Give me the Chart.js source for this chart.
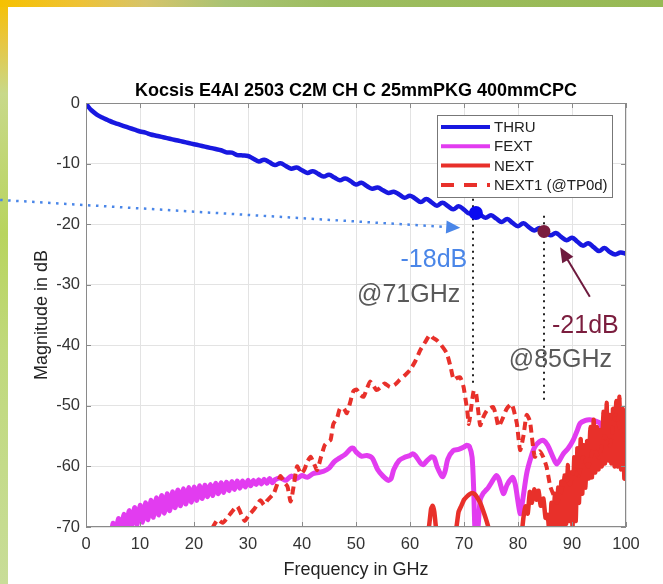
<!DOCTYPE html>
<html>
<head>
<meta charset="utf-8">
<script src="https://cdn.jsdelivr.net/npm/chart.js@4.4.1/dist/chart.umd.min.js"></script>
<style>
    html, body { margin: 0; padding: 0; background: #fff; }
    canvas { display: block; }
</style>
</head>
<body>
<canvas id="chart" width="663" height="584"></canvas>
<script>
const chartTitle = 'Kocsis E4AI 2503 C2M CH C 25mmPKG 400mmCPC'
const xTicks = [0, 10, 20, 30, 40, 50, 60, 70, 80, 90, 100]
const yTicks = [0, -10, -20, -30, -40, -50, -60, -70]
const seriesNames = ['THRU', 'FEXT', 'NEXT', 'NEXT1 (@TP0d)']

// THRU insertion loss
const thruFreq = [0, 0.5, 1, 2, 3, 4, 5, 6, 7, 8, 9, 10, 11, 12, 13, 14, 15, 16, 17, 18, 19, 20,
    21, 22, 23, 24, 25, 26, 27, 28, 29, 30, 31, 32, 33, 34, 35, 36, 37, 38, 39, 40,
    41, 42, 43, 44, 45, 46, 47, 48, 49, 50, 51, 52, 53, 54, 55, 56, 57, 58, 59, 60,
    61, 62, 63, 64, 65, 66, 67, 68, 69, 70, 71, 72, 73, 74, 75, 76, 77, 78, 79, 80,
    81, 82, 83, 84, 85, 86, 87, 88, 89, 90, 91, 92, 93, 94, 95, 96, 97, 98, 99, 100]
const thru = [0, -0.7, -1.2, -1.9, -2.4, -2.8, -3.2, -3.5, -3.8, -4.1, -4.4, -4.7, -4.9, -5.2, -5.4, -5.6, -5.8, -6.0, -6.2, -6.4, -6.6, -6.8,
    -7.0, -7.2, -7.4, -7.6, -7.8, -8.15, -8.2, -8.6, -8.65, -8.75, -9.2, -9.65, -9.35, -9.8, -10.25, -9.95, -10.4, -10.85, -10.65, -11.1,
    -11.55, -11.25, -11.7, -12.15, -11.85, -12.3, -12.75, -12.45, -12.9, -13.45, -13.15, -13.7, -14.15, -13.95, -14.4, -14.85, -14.65, -15.1, -15.65, -15.3,
    -15.8, -16.35, -15.85, -16.4, -16.95, -16.45, -17.0, -17.55, -17.05, -17.6, -18.25, -17.75, -18.4, -18.95, -18.55, -19.1, -19.65, -19.15, -19.8, -20.35,
    -19.85, -20.5, -21.05, -20.65, -21.2, -21.85, -21.45, -22.1, -22.65, -22.25, -22.9, -23.55, -23.15, -23.8, -24.45, -23.95, -24.6, -25.0, -24.7, -24.9]

// FEXT
const fextFreq = [4.6, 5, 5.5, 6, 6.5, 7, 7.5, 8, 8.5, 9, 9.5, 10, 10.5, 11, 11.5, 12, 12.5, 13, 13.5, 14, 14.5,
    15, 15.5, 16, 16.5, 17, 17.5, 18, 18.5, 19, 19.5, 20, 20.5, 21, 21.5, 22, 22.5, 23, 23.5, 24, 24.5,
    25, 25.5, 26, 26.5, 27, 27.5, 28, 28.5, 29, 29.5, 30, 30.5, 31, 31.5, 32, 32.5, 33, 33.5, 34, 34.5,
    35, 36, 37, 38, 39, 40, 41, 42, 43, 44, 45, 46, 47, 48, 49, 49.5, 50, 51, 52, 53, 54, 55, 56, 56.5,
    57, 58, 59, 60, 60.5, 61, 62, 62.5, 63, 64, 64.5, 65, 66, 66.5, 67, 68, 69, 70, 70.5, 71, 71.5, 71.8,
    72, 72.2, 72.6, 73, 73.5, 74, 74.5, 75, 76, 76.5, 77.3, 78, 79, 79.5, 80.4, 80.8, 81.6, 82.4, 83.1, 84,
    84.7, 85.5, 86.5, 87.2, 88.4, 89.3, 90.2, 91, 91.5, 92.5, 93.3, 94.3, 95.2, 96, 96.4, 97, 97.6, 98.3, 98.9, 99.5, 100]
const fext = [-72, -69.4, -71, -68.6, -70.4, -67.9, -70.1, -67.3, -69.9, -66.8, -69.6, -66.4, -69.2, -66.0, -68.8, -65.6, -68.4, -65.2, -68.0, -64.8, -67.7,
    -64.5, -67.3, -64.2, -66.8, -63.9, -66.5, -63.7, -66.2, -63.5, -65.9, -63.4, -65.6, -63.2, -65.3, -63.1, -65.0, -63.0, -64.8, -62.8, -64.5,
    -62.7, -64.3, -62.6, -64.0, -62.5, -63.8, -62.4, -63.6, -62.4, -63.4, -62.3, -63.2, -62.3, -63.0, -62.2, -62.9, -62.1, -62.8, -62.0, -62.7,
    -62.2, -61.9, -62.3, -61.6, -62.0, -61.5, -61.8, -61.2, -61.0, -60.8, -60.3, -59.2, -58.6, -58.0, -57.1, -57.0, -57.6, -58.3, -58.2, -58.6, -60.5, -61.6, -62.3, -62.0,
    -60.5, -59.0, -58.5, -58.2, -57.9, -58.2, -59.5, -59.7, -59.2, -58.4, -58.6, -60.0, -61.7, -60.8, -58.8, -57.4, -57.2, -56.8, -56.5, -56.7, -58.5, -64,
    -70, -72, -70, -65.5, -64.5, -64.0, -63.5, -62.8, -61.5, -62.2, -64.5, -63.0, -61.8, -63.0, -67.8, -66.0, -61.2, -58.5, -56.8, -55.9,
    -55.7, -56.5, -58.5, -59.6, -57.9, -57.0, -55.7, -54.0, -52.9, -52.4, -52.3, -52.5, -52.9, -55.0, -56.2, -56.8, -56.8, -56.0, -55.1, -54.2, -54.0]

// NEXT (solid)
const nextFreq = [62.8, 63.5, 63.9, 64.2, 64.5, 64.8, 65.2, 66, 68, 68.6, 69, 69.5, 70, 70.5, 71, 71.5, 72, 72.5, 73, 73.5, 74, 74.5, 75, 78,
    80.6, 81.0, 81.4, 81.8, 82.2, 82.6, 83.0, 83.4, 83.8, 84.2, 84.7, 85.1, 85.5, 85.9, 86.2, 86.5, 86.8, 87.1, 87.4, 87.7, 88.0, 88.3,
    88.6, 88.9, 89.2, 89.5, 89.8, 90.1, 90.4, 90.7, 91.0, 91.3, 91.6, 91.9, 92.2, 92.5, 92.8, 93.1, 93.4, 93.7, 94.0, 94.3, 94.6, 94.9,
    95.2, 95.5, 95.8, 96.1, 96.4, 96.7, 97.0, 97.3, 97.6, 97.9, 98.2, 98.5, 98.8, 99.1, 99.4, 99.7, 100]
const next = [-72, -70, -67, -66.5, -67.5, -70, -72, null, -72, -70, -67.5, -66.5, -65.5, -65, -64.6, -64.4, -64.6, -65.2, -66, -67.2, -68.5, -70, -72, null,
    -72, -68.5, -66.6, -67.8, -64.2, -66, -63.8, -65.5, -64, -66.5, -65.3, -68.5, -68, -72, -66, -72, -64.5, -71.5, -63.5, -71, -62.5, -70,
    -61.5, -69.5, -59.8, -69, -61, -70, -58.5, -69, -57, -66, -55.5, -64.5, -56.5, -63.5, -55.8, -62, -53.5, -61.8, -52.3, -61, -53.5, -60.5,
    -54, -60, -51, -59.5, -49.5, -59, -51.5, -59.5, -50.5, -60, -49.2, -60, -48.5, -60.5, -50.5, -62, -56]

// NEXT1 (dashed)
const next1Freq = [22, 23.5, 24.4, 25.3, 26.3, 27, 28, 28.8, 29.4, 30.2, 31.2, 32.3, 33, 33.6, 34.8, 36, 36.6, 37.3, 37.9, 38.5,
    39.1, 39.8, 40.4, 41, 41.6, 42.2, 42.8, 43.5, 44.2, 44.7, 45.3, 45.8, 46.5, 47, 47.7, 48.3, 48.9, 49.5, 50.1, 50.8,
    51.4, 52, 52.6, 53.2, 53.8, 54.5, 55.3, 56.3, 57.2, 58.1, 59, 60, 61, 61.9, 62.8, 63.7, 64.3, 65, 65.8, 66.8,
    67.5, 68.1, 68.7, 69.3, 69.9, 70.3, 70.6, 70.9, 71.3, 71.8, 72.2, 72.5, 73, 73.5, 74.2, 74.8, 75.4, 75.9, 76.4, 77.2,
    77.9, 78.8, 79.3, 79.8, 80.4, 81, 81.6, 82.2, 83.1, 84, 84.7, 85.3, 86, 86.5, 87.2, 88, 88.8, 89.6, 90.4, 91.2,
    92, 93, 94, 95, 96, 97, 98, 99, 100]
const next1 = [-72, -70, -68.8, -69.3, -68.3, -67.5, -66.6, -68, -69, -68, -67, -65.6, -66.4, -65.6, -64.4, -61.6, -62.5, -63.3, -65.8, -63,
    -60, -61.2, -60.6, -59.2, -58.4, -59.5, -60.6, -58.5, -56.5, -56.0, -55.6, -53, -52.0, -50.5, -50.4, -51.2, -49.5, -47.6, -47.3, -48.2,
    -48.5, -47.2, -46.0, -46.6, -47.4, -47.0, -46.3, -46.9, -46.5, -45.7, -45.0, -44.1, -42.6, -40.8, -39.5, -38.3, -38.8, -39.2, -40.0, -41.3,
    -43.5, -45.7, -45.4, -45.3, -46.8, -49, -50.8, -53, -50.5, -47.5, -47.8, -49.8, -53.2, -52.0, -50.8, -50.4, -50.2, -51.5, -53.4, -52.0,
    -50.5, -49.7, -51.0, -53.0, -57.3, -55, -51.5, -52.5, -58.4, -57.5, -58.5, -60.1, -63.4, -64.5, -66, -64, -61.5, -63, -60.5, -61.5,
    -58.5, -60, -57, -58.5, -55, -56.5, -51.5, -54, -56]

// callouts
const blueMark = { f: 72.2, db: -18.15 }
const redMark = { f: 84.8, db: -21.2 }

const colors = ['#1818e0', '#e23cf0', '#e8302a', '#e8302a']

function pts(xs, ys) {
    return xs.map((x, i) => ({ x: x, y: ys[i] }))
}

const slideAndNotes = {
    id: 'slideAndNotes',
    beforeDraw(chart) {
        const ctx = chart.ctx
        ctx.save()
        ctx.fillStyle = '#fff'
        ctx.fillRect(0, 0, chart.width, chart.height)
        let g = ctx.createLinearGradient(0, 0, 0, chart.height)
        g.addColorStop(0, '#f6c100')
        g.addColorStop(0.07, '#e8c640')
        g.addColorStop(0.16, '#c8d98a')
        g.addColorStop(0.4, '#b8d45e')
        g.addColorStop(0.6, '#c0d97c')
        g.addColorStop(1, '#c8dd98')
        ctx.fillStyle = g
        ctx.fillRect(0, 0, 8, chart.height)
        g = ctx.createLinearGradient(0, 0, chart.width, 0)
        g.addColorStop(0, '#f6c100')
        g.addColorStop(0.12, '#eec236')
        g.addColorStop(0.22, '#d6c46a')
        g.addColorStop(0.34, '#a9c373')
        g.addColorStop(0.5, '#9dbd60')
        g.addColorStop(1, '#97b954')
        ctx.fillStyle = g
        ctx.fillRect(0, 0, chart.width, 7)
        ctx.restore()
    },
    afterDatasetsDraw(chart) {
        const ctx = chart.ctx
        const a = chart.chartArea
        const xs = chart.scales.x, ys = chart.scales.y
        const px = v => xs.getPixelForValue(v)
        const py = v => ys.getPixelForValue(v)
        ctx.save()

        // axes box and inward ticks
        ctx.strokeStyle = '#8a8a8a'
        ctx.lineWidth = 1
        ctx.strokeRect(a.left + 0.5, a.top + 0.5, a.right - a.left - 1, a.bottom - a.top - 1)
        ctx.beginPath()
        xTicks.forEach(v => {
            const x = Math.round(px(v)) + 0.5
            ctx.moveTo(x, a.bottom); ctx.lineTo(x, a.bottom - 5)
            ctx.moveTo(x, a.top); ctx.lineTo(x, a.top + 5)
        })
        yTicks.forEach(v => {
            const y = Math.round(py(v)) + 0.5
            ctx.moveTo(a.left, y); ctx.lineTo(a.left + 5, y)
            ctx.moveTo(a.right, y); ctx.lineTo(a.right - 5, y)
        })
        ctx.stroke()

        // title
        ctx.fillStyle = '#000'
        ctx.font = 'bold 18px "Liberation Sans", Arial, sans-serif'
        ctx.textAlign = 'center'
        ctx.textBaseline = 'alphabetic'
        ctx.fillText(chartTitle, (a.left + a.right) / 2, a.top - 7)

        // legend
        const lw = 175, lh = 82
        const lx = a.right - 14 - lw, ly = a.top + 12
        ctx.fillStyle = '#fff'
        ctx.fillRect(lx, ly, lw, lh)
        ctx.strokeStyle = '#777'
        ctx.strokeRect(lx + 0.5, ly + 0.5, lw, lh)
        ctx.font = '15px "Liberation Sans", Arial, sans-serif'
        ctx.textAlign = 'left'
        ctx.textBaseline = 'middle'
        seriesNames.forEach((name, i) => {
            const y = ly + 12 + i * 19.3
            ctx.strokeStyle = colors[i]
            ctx.lineWidth = 4
            ctx.setLineDash(i === 3 ? [13, 10] : [])
            ctx.beginPath()
            ctx.moveTo(lx + 4, y); ctx.lineTo(lx + 53, y)
            ctx.stroke()
            ctx.setLineDash([])
            ctx.fillStyle = '#222'
            ctx.fillText(name, lx + 57, y + 1)
        })

        // blue dotted pointer with arrow head
        const x0 = px(-15.9), y0 = py(-16.0)
        const tx = px(69.3), ty = py(-20.6)
        const len = Math.hypot(tx - x0, ty - y0)
        const ux = (tx - x0) / len, uy = (ty - y0) / len
        ctx.strokeStyle = '#4a86e8'
        ctx.lineWidth = 2.5
        ctx.setLineDash([2.5, 5.5])
        ctx.beginPath()
        ctx.moveTo(x0, y0); ctx.lineTo(tx - ux * 13, ty - uy * 13)
        ctx.stroke()
        ctx.setLineDash([])
        ctx.fillStyle = '#4a86e8'
        ctx.beginPath()
        ctx.moveTo(tx, ty)
        ctx.lineTo(tx - ux * 14 - uy * 6.5, ty - uy * 14 + ux * 6.5)
        ctx.lineTo(tx - ux * 14 + uy * 6.5, ty - uy * 14 - ux * 6.5)
        ctx.closePath()
        ctx.fill()

        // black dotted drop lines
        ctx.strokeStyle = '#222'
        ctx.lineWidth = 2
        ctx.setLineDash([2, 4.5])
        ctx.beginPath()
        ctx.moveTo(Math.round(px(71.7)), py(-15.8)); ctx.lineTo(Math.round(px(71.7)), py(-46.3))
        ctx.moveTo(Math.round(px(84.8)), py(-18.6)); ctx.lineTo(Math.round(px(84.8)), py(-49.0))
        ctx.stroke()
        ctx.setLineDash([])

        // marker dots
        ctx.fillStyle = '#0a0af0'
        ctx.beginPath()
        ctx.arc(px(blueMark.f), py(blueMark.db), 7, 0, Math.PI * 2)
        ctx.fill()
        ctx.fillStyle = '#7b1d3e'
        ctx.beginPath()
        ctx.arc(px(redMark.f), py(redMark.db), 6.5, 0, Math.PI * 2)
        ctx.fill()

        // maroon arrow
        const ax0 = px(93.3), ay0 = py(-32.0)
        const ax1 = px(87.8), ay1 = py(-23.8)
        const al = Math.hypot(ax1 - ax0, ay1 - ay0)
        const vx = (ax1 - ax0) / al, vy = (ay1 - ay0) / al
        ctx.strokeStyle = '#6e1a3e'
        ctx.fillStyle = '#6e1a3e'
        ctx.lineWidth = 2
        ctx.beginPath()
        ctx.moveTo(ax0, ay0); ctx.lineTo(ax1 - vx * 12, ay1 - vy * 12)
        ctx.stroke()
        ctx.beginPath()
        ctx.moveTo(ax1, ay1)
        ctx.lineTo(ax1 - vx * 15 - vy * 6.5, ay1 - vy * 15 + vx * 6.5)
        ctx.lineTo(ax1 - vx * 15 + vy * 6.5, ay1 - vy * 15 - vx * 6.5)
        ctx.closePath()
        ctx.fill()

        // callout text
        ctx.font = '25px "Liberation Sans", Arial, sans-serif'
        ctx.textBaseline = 'alphabetic'
        ctx.textAlign = 'right'
        ctx.fillStyle = '#4a86e8'
        ctx.fillText('-18dB', px(70.6), py(-27.1))
        ctx.fillStyle = '#595959'
        ctx.fillText('@71GHz', px(69.3), py(-32.9))
        ctx.textAlign = 'left'
        ctx.fillStyle = '#7b1d3e'
        ctx.fillText('-21dB', px(86.3), py(-38.0))
        ctx.fillStyle = '#595959'
        ctx.fillText('@85GHz', px(78.3), py(-43.6))

        ctx.restore()
    }
}

const tickFont = { family: '"Liberation Sans", Arial, sans-serif', size: 16.5 }
const labelFont = { family: '"Liberation Sans", Arial, sans-serif', size: 18 }

new Chart(document.querySelector('#chart').getContext('2d'), {
    type: 'line',
    data: {
        datasets: [
            { label: seriesNames[0], data: pts(thruFreq, thru), borderColor: colors[0], borderWidth: 4.5, tension: 0.4, order: 3 },
            { label: seriesNames[1], data: pts(fextFreq, fext), borderColor: colors[1], borderWidth: 5, tension: 0.25, order: 2 },
            { label: seriesNames[2], data: pts(nextFreq, next), borderColor: colors[2], borderWidth: 4.5, tension: 0.15, order: 1 },
            { label: seriesNames[3], data: pts(next1Freq, next1), borderColor: colors[3], borderWidth: 4, borderDash: [8, 5], tension: 0.2, order: 0 }
        ]
    },
    options: {
        responsive: false,
        animation: false,
        devicePixelRatio: 1,
        spanGaps: false,
        layout: { padding: { left: 0, top: 103, right: 37, bottom: 0 } },
        elements: { point: { radius: 0 } },
        datasets: { line: { clip: 0 } },
        plugins: { legend: { display: false }, tooltip: { enabled: false } },
        scales: {
            x: {
                type: 'linear', min: 0, max: 100,
                afterBuildTicks: s => { s.ticks = xTicks.map(v => ({ value: v })) },
                afterFit: s => { s.height = 57 },
                grid: { color: '#e3e3e3', drawTicks: false },
                border: { display: false },
                ticks: { color: '#333', font: tickFont, padding: 8, maxRotation: 0 },
                title: { display: true, text: 'Frequency in GHz', color: '#222', font: labelFont, padding: { top: 0, bottom: 3 } }
            },
            y: {
                type: 'linear', min: -70, max: 0,
                afterBuildTicks: s => { s.ticks = yTicks.map(v => ({ value: v })) },
                afterFit: s => { s.width = 86 },
                grid: { color: '#e3e3e3', drawTicks: false },
                border: { display: false },
                ticks: { color: '#333', font: tickFont, padding: 6 },
                title: { display: true, text: 'Magnitude in dB', color: '#222', font: labelFont, padding: { top: 31, bottom: 0 } }
            }
        }
    },
    plugins: [slideAndNotes]
})
</script>
</body>
</html>
